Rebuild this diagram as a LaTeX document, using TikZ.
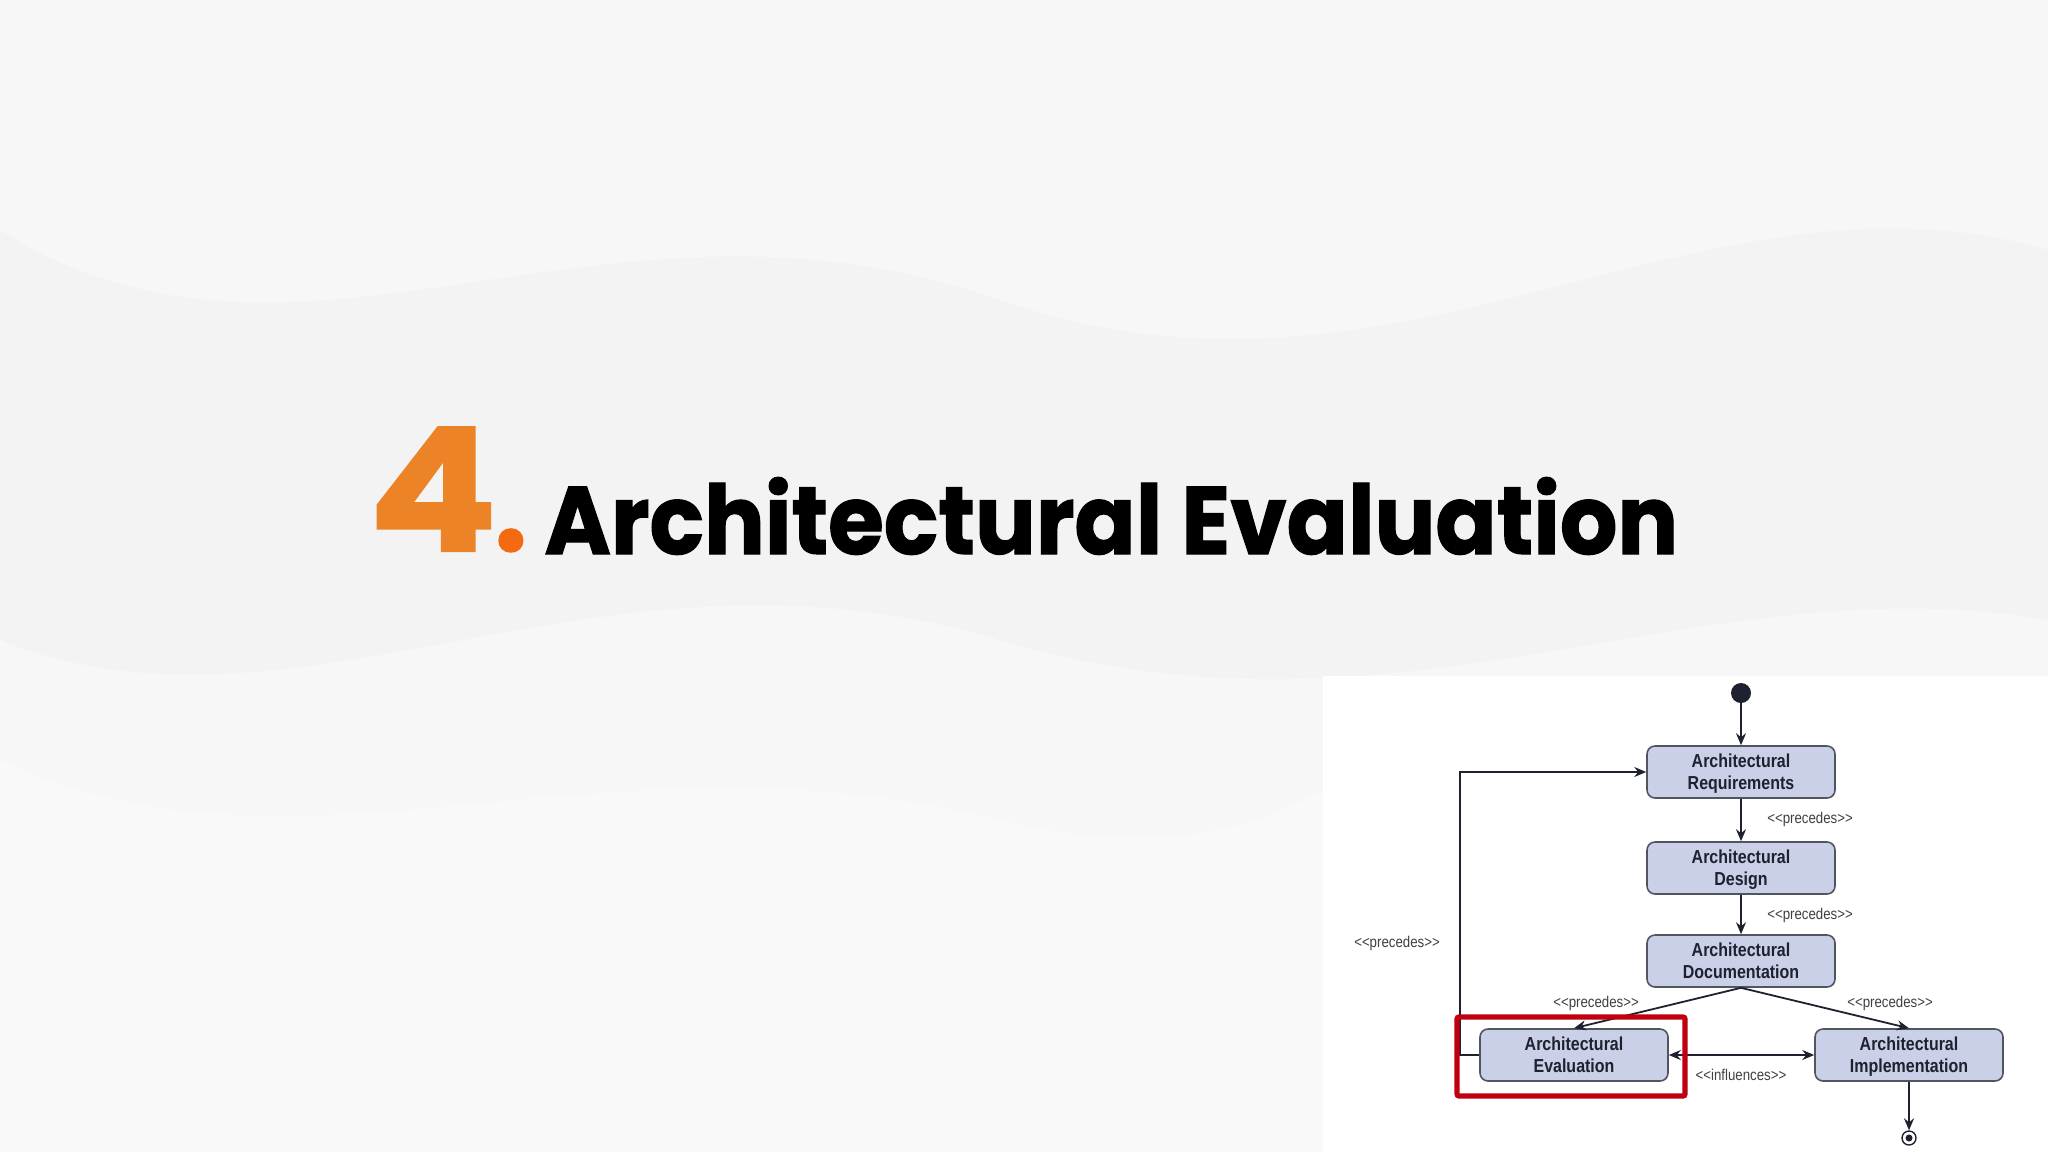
\documentclass[tikz,border=0pt]{standalone}
\usepackage{fontspec}
\usetikzlibrary{arrows.meta,positioning,calc}
\newfontfamily\titlefont{Poppins}[FakeStretch=0.94,FakeBold=1.2]
\newfontfamily\digitfont{Poppins}[FakeStretch=1.11,FakeBold=1.2]
\newfontfamily\boxfont{Liberation Sans}[FakeStretch=0.85]
\newcommand\lnstrut{\rule[-2.3pt]{0pt}{11pt}}
\definecolor{bgcol}{HTML}{F7F7F7}
\definecolor{wavecol}{HTML}{F3F3F3}
\definecolor{orangeA}{HTML}{EC8427}
\definecolor{orangeB}{HTML}{F36A10}
\definecolor{boxfill}{HTML}{C9D0E8}
\definecolor{boxline}{HTML}{505560}
\definecolor{inkcol}{HTML}{1E2230}
\definecolor{redframe}{HTML}{C00010}
\tikzset{
  stage/.style={draw=boxline, line width=0.8pt, fill=boxfill, rounded corners=4pt,
    minimum width=94pt, minimum height=26pt, align=center, inner sep=1pt,
    font=\boxfont\bfseries\fontsize{9.4}{11}\selectfont, text=inkcol},
  flow/.style={draw=inkcol, line width=0.9pt, -{Stealth[length=6pt,width=5pt,inset=2pt]}},
  lbl/.style={font=\boxfont\fontsize{7.8}{9}\selectfont, text=black!75, inner sep=1pt},
}
\begin{document}
\begin{tikzpicture}[x=0.5pt,y=-0.5pt]
\useasboundingbox (0,0) rectangle (2048,1152);
\fill[bgcol] (0,0) rectangle (2048,1152);
% subtle background waves
\fill[wavecol] (0,230) .. controls (300,420) and (600,160) .. (1000,300)
  .. controls (1400,440) and (1700,150) .. (2048,250) -- (2048,620)
  .. controls (1700,560) and (1400,760) .. (1000,640)
  .. controls (600,520) and (300,760) .. (0,640) -- cycle;
\fill[white,opacity=0.35] (0,760) .. controls (300,900) and (600,720) .. (1000,820)
  .. controls (1200,870) and (1300,800) .. (1323,790) -- (1323,1152) -- (0,1152) -- cycle;
% title
\node[anchor=base west, inner sep=0pt] (num) at (368,551)
  {\rlap{\digitfont\bfseries\fontsize{86}{90}\selectfont\color{orangeA}4}\hspace*{63pt}{\titlefont\bfseries\fontsize{62}{70}\selectfont\color{orangeB}.}};
\node[anchor=base west, inner sep=0pt, text=black, font=\titlefont\bfseries\fontsize{48}{52}\selectfont] (title) at (544,554) {Architectural Evaluation};
% diagram panel
\fill[white] (1323,676) rectangle (2048,1152);
\node[circle, fill=inkcol, minimum size=10pt, inner sep=0pt] (start) at (1741,693) {};
\node[stage] (req) at (1741,772) {Architectural\lnstrut\\Requirements\lnstrut};
\node[stage] (des) at (1741,868) {Architectural\lnstrut\\Design\lnstrut};
\node[stage] (doc) at (1741,961) {Architectural\lnstrut\\Documentation\lnstrut};
\node[stage] (eval) at (1574,1055) {Architectural\lnstrut\\Evaluation\lnstrut};
\node[stage] (impl) at (1909,1055) {Architectural\lnstrut\\Implementation\lnstrut};
\node[circle, draw=inkcol, line width=0.7pt, fill=white, minimum size=7pt, inner sep=0pt] (end) at (1909,1138) {};
\fill[inkcol] (end.center) circle (3.5);
\draw[flow] (start) -- (req);
\draw[flow] (req) -- (des);
\draw[flow] (des) -- (doc);
\draw[flow] (doc.south) -- (eval.north);
\draw[flow] (doc.south) -- (impl.north);
\draw[flow, {Stealth[length=6pt,width=5pt,inset=2pt]}-{Stealth[length=6pt,width=5pt,inset=2pt]}] (eval) -- (impl);
\draw[flow] (impl) -- (end);
\coordinate (fb) at (1460,1055);
\draw[flow] (eval.west) -- (fb) |- (req.west);
\node[lbl] (l1) at (1810,819) {<{}<precedes>{}>};
\node[lbl] (l2) at (1810,915) {<{}<precedes>{}>};
\node[lbl] (l3) at (1596,1003) {<{}<precedes>{}>};
\node[lbl] (l4) at (1890,1003) {<{}<precedes>{}>};
\node[lbl] (l5) at (1741,1075) {<{}<influences>{}>};
\node[lbl] (l6) at (1397,943) {<{}<precedes>{}>};
% red highlight frame
\draw[redframe, line width=2.6pt, rounded corners=1pt] (1457,1017) rectangle (1685,1096);
\end{tikzpicture}
\end{document}
